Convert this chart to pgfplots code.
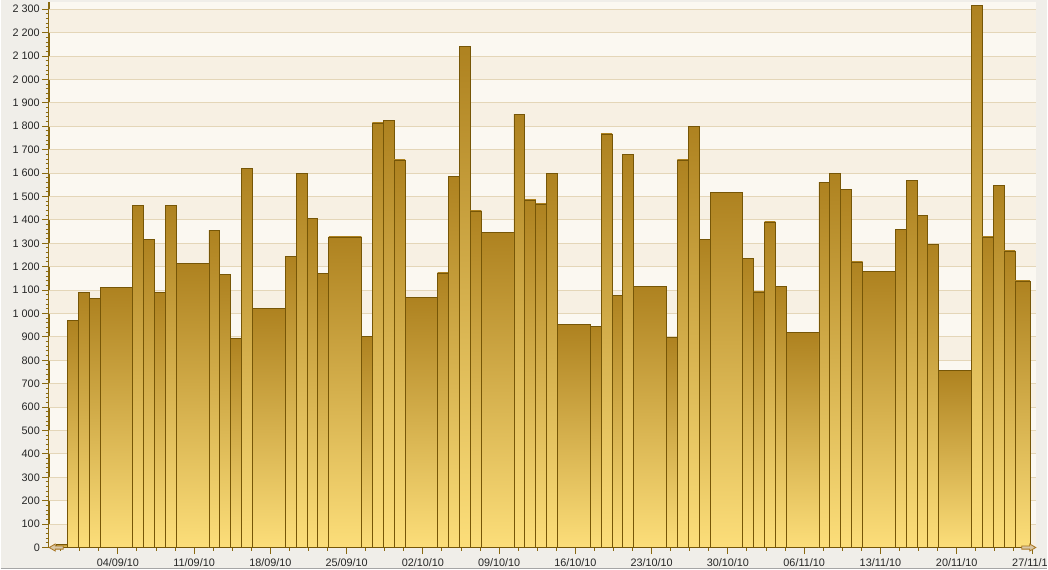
\documentclass[border=0pt]{standalone}
\usepackage{fontspec}
\setmainfont{Liberation Sans}
\usepackage{pgfplots}
\pgfplotsset{compat=1.18}

\definecolor{outerbg}{HTML}{F0EEE9}
\definecolor{banddark}{HTML}{F7F0E3}
\definecolor{bandlight}{HTML}{FBF8F1}
\definecolor{gridc}{HTML}{E4D6B8}
\definecolor{axisc}{HTML}{8A6A10}
\definecolor{barline}{HTML}{765607}
\definecolor{bartop}{HTML}{AE8220}
\definecolor{barmid}{HTML}{DDAB40}
\definecolor{barbot}{HTML}{FCDE7A}
\definecolor{arrowfill}{HTML}{D9C7A6}
\definecolor{arrowline}{HTML}{A8741E}

% one bar: first day, day after the last, value
\newcommand{\daybar}[3]{\addplot[draw=barline, line width=0.9bp,
  top color=bartop, middle color=barmid, bottom color=barbot, forget plot]
  coordinates {(#1,0) (#1,#3) (#2,#3) (#2,0)} -- cycle;}
\newcommand{\band}[2]{\addplot[draw=none, fill=banddark, forget plot]
  coordinates {(-5.685,#1) (84.92,#1) (84.92,#2) (-5.685,#2)} -- cycle;}

\begin{document}
\begin{tikzpicture}
\fill[outerbg] (0bp,0bp) rectangle (1048bp,570bp);
\draw[gray!70, line width=1.5bp] (0bp,0.75bp) -- (1048bp,0.75bp);
\useasboundingbox (0bp,0bp) rectangle (1048bp,570bp);
\begin{axis}[
  at={(48.3bp,21.7bp)}, anchor=south west,
  scale only axis, width=988.4bp, height=546.3bp,
  xmin=-5.685, xmax=84.92, ymin=0, ymax=2331,
  axis lines*=left,
  axis line style={axisc, line width=1.3bp},
  axis background/.style={fill=bandlight},
  xtick={0.64,7.64,...,84.7},
  xticklabels={04/09/10,11/09/10,18/09/10,25/09/10,02/10/10,09/10/10,16/10/10,23/10/10,30/10/10,06/11/10,13/11/10,20/11/10,27/11/10},
  minor xtick={-4.61,-2.86,...,84.7},
  ytick={0,100,...,2300},
  minor y tick num=4,
  tick align=outside,
  major tick length=6.5bp, minor tick length=3.3bp,
  tick style={axisc, line width=1bp},
  tick label style={font=\fontsize{10.9}{12}\selectfont, text=black!85, inner sep=0pt},
  xticklabel style={yshift=-4bp},
  yticklabel style={xshift=-2.5bp},
  /pgf/number format/assume math mode=true,
  /pgf/number format/1000 sep={\ },
]
\band{0}{100}\band{200}{300}\band{400}{500}\band{600}{700}
\band{800}{900}\band{1000}{1100}\band{1200}{1300}\band{1400}{1500}
\band{1600}{1700}\band{1800}{1900}\band{2000}{2100}\band{2200}{2300}
\pgfplotsinvokeforeach{100,200,...,2300}{
  \addplot[gridc, line width=1bp, forget plot] coordinates {(-5.685,#1) (84.92,#1)};
}
\daybar{-5}{-4}{15}
\daybar{-4}{-3}{970}
\daybar{-3}{-2}{1090}
\daybar{-2}{-1}{1065}
\daybar{-1}{2}{1110}
\daybar{2}{3}{1460}
\daybar{3}{4}{1315}
\daybar{4}{5}{1090}
\daybar{5}{6}{1460}
\daybar{6}{9}{1212}
\daybar{9}{10}{1355}
\daybar{10}{11}{1165}
\daybar{11}{12}{893}
\daybar{12}{13}{1621}
\daybar{13}{16}{1020}
\daybar{16}{17}{1242}
\daybar{17}{18}{1597}
\daybar{18}{19}{1404}
\daybar{19}{20}{1169}
\daybar{20}{23}{1327}
\daybar{23}{24}{900}
\daybar{24}{25}{1814}
\daybar{25}{26}{1826}
\daybar{26}{27}{1656}
\daybar{27}{30}{1067}
\daybar{30}{31}{1173}
\daybar{31}{32}{1587}
\daybar{32}{33}{2142}
\daybar{33}{34}{1438}
\daybar{34}{37}{1348}
\daybar{37}{38}{1852}
\daybar{38}{39}{1485}
\daybar{39}{40}{1468}
\daybar{40}{41}{1597}
\daybar{41}{44}{952}
\daybar{44}{45}{943}
\daybar{45}{46}{1767}
\daybar{46}{47}{1077}
\daybar{47}{48}{1681}
\daybar{48}{51}{1115}
\daybar{51}{52}{897}
\daybar{52}{53}{1656}
\daybar{53}{54}{1801}
\daybar{54}{55}{1316}
\daybar{55}{58}{1519}
\daybar{58}{59}{1237}
\daybar{59}{60}{1092}
\daybar{60}{61}{1391}
\daybar{61}{62}{1114}
\daybar{62}{65}{917}
\daybar{65}{66}{1559}
\daybar{66}{67}{1597}
\daybar{67}{68}{1528}
\daybar{68}{69}{1220}
\daybar{69}{72}{1178}
\daybar{72}{73}{1358}
\daybar{73}{74}{1570}
\daybar{74}{75}{1418}
\daybar{75}{76}{1294}
\daybar{76}{79}{757}
\daybar{79}{80}{2317}
\daybar{80}{81}{1327}
\daybar{81}{82}{1549}
\daybar{82}{83}{1267}
\daybar{83}{84.37}{1139}
\end{axis}
% scroll arrows at the ends of the x axis
\begin{scope}[shift={(48.5bp,21.7bp)}, x=1bp, y=1bp]
\filldraw[fill=arrowfill, draw=arrowline, line width=0.8bp]
  (0,0) -- (6,3.5) -- (6,1.6) -- (14,1.6) -- (14,-1.6) -- (6,-1.6) -- (6,-3.5) -- cycle;
\end{scope}
\begin{scope}[shift={(1036.5bp,21.7bp)}, x=1bp, y=1bp]
\filldraw[fill=arrowfill, draw=arrowline, line width=0.8bp]
  (0,0) -- (-6,3.5) -- (-6,1.6) -- (-14,1.6) -- (-14,-1.6) -- (-6,-1.6) -- (-6,-3.5) -- cycle;
\end{scope}
\end{tikzpicture}
\end{document}
